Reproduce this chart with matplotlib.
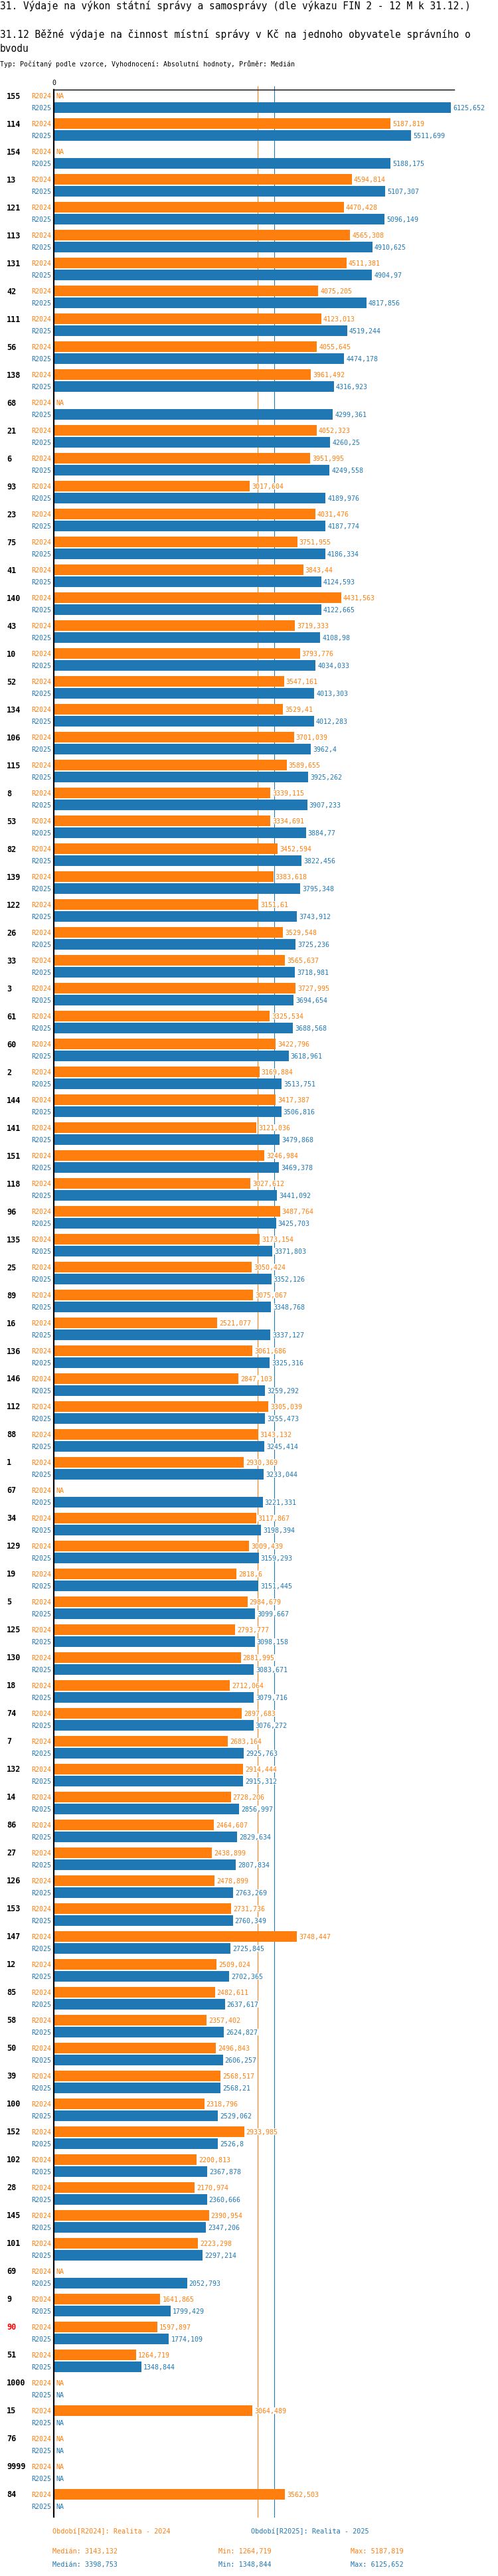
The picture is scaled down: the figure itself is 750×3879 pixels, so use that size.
import numpy as np
import matplotlib
matplotlib.use("Agg")
import matplotlib.pyplot as plt
from matplotlib import transforms

plt.rcParams['font.family'] = ['DejaVu Sans Mono', 'DejaVu Sans']

# obce (kody) v poradi podle R2025
regions = ["155", "114", "154", "13", "121", "113", "131", "42", "111", "56",
           "138", "68", "21", "6", "93", "23", "75", "41", "140", "43",
           "10", "52", "134", "106", "115", "8", "53", "82", "139", "122",
           "26", "33", "3", "61", "60", "2", "144", "141", "151", "118",
           "96", "135", "25", "89", "16", "136", "146", "112", "88", "1",
           "67", "34", "129", "19", "5", "125", "130", "18", "74", "7",
           "132", "14", "86", "27", "126", "153", "147", "12", "85", "58",
           "50", "39", "100", "152", "102", "28", "145", "101", "69", "9",
           "90", "51", "1000", "15", "76", "9999", "84"]
NA = np.nan
r2024 = [NA, 5187.819, NA, 4594.814, 4470.428, 4565.308, 4511.381, 4075.205, 4123.013, 4055.645,
         3961.492, NA, 4052.323, 3951.995, 3017.604, 4031.476, 3751.955, 3843.44, 4431.563, 3719.333,
         3793.776, 3547.161, 3529.41, 3701.039, 3589.655, 3339.115, 3334.691, 3452.594, 3383.618, 3151.61,
         3529.548, 3565.637, 3727.995, 3325.534, 3422.796, 3169.884, 3417.387, 3121.036, 3246.984, 3027.612,
         3487.764, 3173.154, 3050.424, 3075.067, 2521.077, 3061.686, 2847.103, 3305.039, 3143.132, 2930.369,
         NA, 3117.867, 3009.439, 2818.6, 2984.679, 2793.777, 2881.995, 2712.064, 2897.683, 2683.164,
         2914.444, 2728.206, 2464.607, 2438.899, 2478.899, 2731.736, 3748.447, 2509.024, 2482.611, 2357.402,
         2496.843, 2568.517, 2318.796, 2933.985, 2200.813, 2170.974, 2390.954, 2223.298, NA, 1641.865,
         1597.897, 1264.719, NA, 3064.489, NA, NA, 3562.503]
r2025 = [6125.652, 5511.699, 5188.175, 5107.307, 5096.149, 4910.625, 4904.97, 4817.856, 4519.244, 4474.178,
         4316.923, 4299.361, 4260.25, 4249.558, 4189.976, 4187.774, 4186.334, 4124.593, 4122.665, 4108.98,
         4034.033, 4013.303, 4012.283, 3962.4, 3925.262, 3907.233, 3884.77, 3822.456, 3795.348, 3743.912,
         3725.236, 3718.981, 3694.654, 3688.568, 3618.961, 3513.751, 3506.816, 3479.868, 3469.378, 3441.092,
         3425.703, 3371.803, 3352.126, 3348.768, 3337.127, 3325.316, 3259.292, 3255.473, 3245.414, 3233.044,
         3221.331, 3198.394, 3159.293, 3151.445, 3099.667, 3098.158, 3083.671, 3079.716, 3076.272, 2925.763,
         2915.312, 2856.997, 2829.634, 2807.834, 2763.269, 2760.349, 2725.845, 2702.365, 2637.617, 2624.827,
         2606.257, 2568.21, 2529.062, 2526.8, 2367.878, 2360.666, 2347.206, 2297.214, 2052.793, 1799.429,
         1774.109, 1348.844, NA, NA, NA, NA, NA]
highlight = "90"

series = [("R2024", r2024, "#ff7f0e", "Období[R2024]: Realita - 2024"),
          ("R2025", r2025, "#1f77b4", "Období[R2025]: Realita - 2025")]


def fmt(v):
    s = f"{v:.3f}".rstrip("0").rstrip(".")
    return s.replace(".", ",")


W, H = 750, 3880
fig = plt.figure(figsize=(W / 100, H / 100), dpi=100)
left, right, top, bottom = 81, 684, 136, 3791
ax = fig.add_axes([left / W, 1 - bottom / H, (right - left) / W, (bottom - top) / H])
ax.set_xlim(0, 6172)
ax.set_ylim(bottom, top)
for s in ["right", "bottom"]:
    ax.spines[s].set_visible(False)
ax.spines["left"].set_linewidth(1.6)
ax.spines["top"].set_linewidth(1.0)
ax.set_xticks([])
ax.set_yticks([])


def fy(y):
    return 1 - y / H


# titles
fig.text(0, fy(9), "31. Výdaje na výkon státní správy a samosprávy (dle výkazu FIN 2 - 12 M k 31.12.)",
         fontsize=10.45, va="center")
fig.text(0, fy(52), "31.12 Běžné výdaje na činnost místní správy v Kč na jednoho obyvatele správního o",
         fontsize=10.45, va="center")
fig.text(0, fy(74), "bvodu", fontsize=10.45, va="center")
fig.text(0, fy(96), "Typ: Počítaný podle vzorce, Vyhodnocení: Absolutní hodnoty, Průměr: Medián",
         fontsize=7.15, va="center")
ax.text(0, 125, "0", fontsize=7.2, ha="center", va="center", clip_on=False)

lab_tr = transforms.blended_transform_factory(fig.transFigure, ax.transData)
pitch, first, step = 42, 145, 18
ys = first + pitch * np.arange(len(regions))

for k, (name, vals, col, _) in enumerate(series):
    vals = np.array(vals, dtype=float)
    yy = ys + k * step
    ok = ~np.isnan(vals)
    ax.barh(yy[ok], vals[ok], height=16, color=col, zorder=2)
    for y, v in zip(yy, vals):
        ax.annotate(name, xy=(0, y), xytext=(-2.9, 0), textcoords="offset points",
                    ha="right", va="center", fontsize=7.2, color=col, annotation_clip=False)
        txt = "NA" if np.isnan(v) else fmt(v)
        x = 0 if np.isnan(v) else v
        ax.annotate(txt, xy=(x, y), xytext=(2.2, 0), textcoords="offset points",
                    ha="left", va="center", fontsize=7.2, color=col, zorder=3,
                    annotation_clip=False,
                    bbox=dict(facecolor="white", edgecolor="none", pad=0.3))

for y, r in zip(ys, regions):
    ax.text(10 / W, y, r, transform=lab_tr, fontsize=8.5, fontweight="bold", va="center",
            color="#ff0000" if r == highlight else "black")

# medians
stats = []
for name, vals, col, _ in series:
    v = np.array(vals, dtype=float)
    med = np.nanmedian(v)
    stats.append((med, np.nanmin(v), np.nanmax(v)))
    ax.plot([med, med], [131, bottom], color=col, lw=0.8, zorder=1, clip_on=False)

# legend / summary
fig.text(79 / W, fy(3812), series[0][3], fontsize=7.3, color=series[0][2], va="center")
fig.text(378 / W, fy(3812), series[1][3], fontsize=7.3, color=series[1][2], va="center")
for k, (name, vals, col, _) in enumerate(series):
    yy = fy(3842 + 20 * k)
    med, mn, mx = stats[k]
    fig.text(79 / W, yy, "Medián: " + fmt(med), fontsize=7.3, color=col, va="center")
    fig.text(329 / W, yy, "Min: " + fmt(mn), fontsize=7.3, color=col, va="center")
    fig.text(528 / W, yy, "Max: " + fmt(mx), fontsize=7.3, color=col, va="center")

fig.savefig("out.png", dpi=100)
